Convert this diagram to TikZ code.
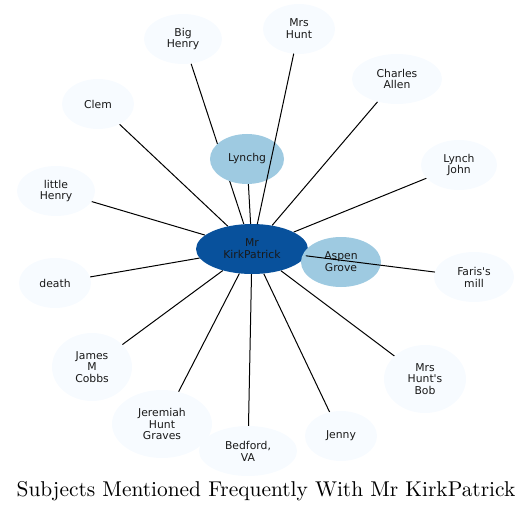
\documentclass[tikz,border=0pt]{standalone}
\usepackage{fontspec}
\newfontfamily\nodefont{DejaVu Sans}
\usetikzlibrary{shapes.geometric}
\pgfdeclarelayer{background}
\pgfsetlayers{background,main}
\definecolor{hubblue}{HTML}{08519C}
\definecolor{midblue}{HTML}{9ECAE1}
\definecolor{paleblue}{HTML}{F7FBFF}
\begin{document}
\begin{tikzpicture}[x=1pt,y=-1pt,line join=round,line cap=round]
	\tikzset{bubble/.style={ellipse,inner sep=0pt,text=black!90,
			font=\nodefont\fontsize{10.8}{11.8}\selectfont,align=center},
		link/.style={black,line width=1pt}}
	\useasboundingbox(0,0)rectangle(532,513);
	% hub and the two inner places
	\node[bubble,fill=hubblue,minimum width=112pt,minimum height=50pt](kirk)at(252,249){Mr\\KirkPatrick};
	\node[bubble,fill=midblue,minimum width=74pt,minimum height=50pt](lynchg)at(247,159){Lynchg};
	\node[bubble,fill=midblue,minimum width=80pt,minimum height=50pt](aspen)at(341,262){Aspen\\Grove};
	% outer names
	\foreach \x/\y/\w/\h/\n/\t in{
		183/39/78/50/bighenry/{Big\\Henry},
		299/29/72/50/mrshunt/{Mrs\\Hunt},
		397/79/90/50/charles/{Charles\\Allen},
		98/104/72/50/clem/{Clem},
		459/165/76/50/lynchjohn/{Lynch\\John},
		56/191/78/50/littlehenry/{little\\Henry},
		55/283/72/50/death/{death},
		474/277/80/50/faris/{Faris's\\mill},
		92/367/80/68/cobbs/{James\\M\\Cobbs},
		425/379/82/68/bob/{Mrs\\Hunt's\\Bob},
		162/424/100/68/graves/{Jeremiah\\Hunt\\Graves},
		248/451/98/50/bedford/{Bedford,\\VA},
		341/436/72/50/jenny/{Jenny}}
	\node[bubble,fill=paleblue,minimum width=\w pt,minimum height=\h pt](\n)at(\x,\y){\t};
	\begin{pgfonlayer}{background}
		\foreach \n in{lynchg,bighenry,charles,clem,lynchjohn,littlehenry,death,cobbs,bob,graves,bedford,jenny}
		\draw[link](kirk)--(\n);
	\end{pgfonlayer}
	\draw[link](kirk)--(mrshunt);
	\draw[link](kirk)--(faris);
	\node(title)at(266,491){\scalebox{2.14}{\fontsize{10}{12}\selectfont Subjects Mentioned Frequently With Mr KirkPatrick}};
\end{tikzpicture}
\end{document}
